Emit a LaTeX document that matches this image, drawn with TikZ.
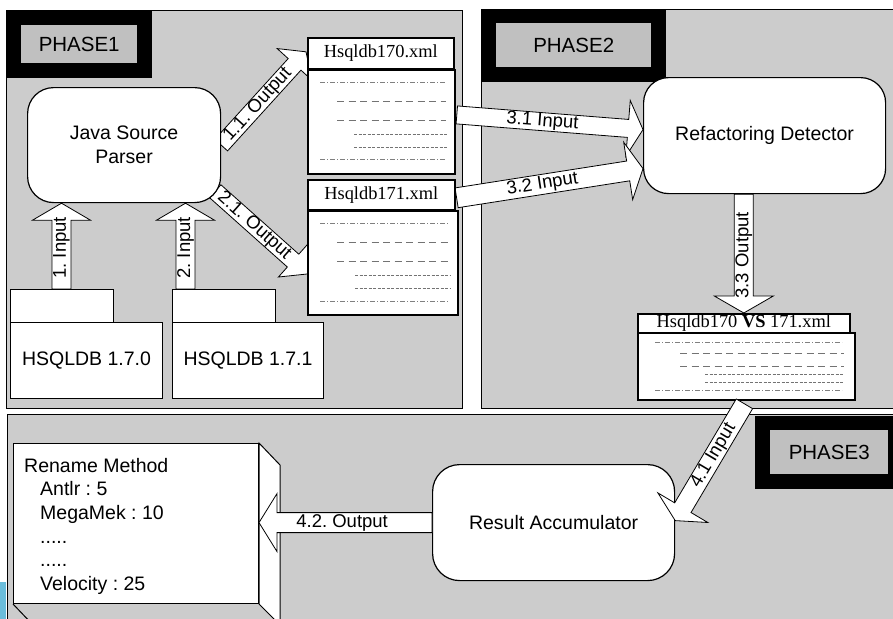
\documentclass[tikz,border=0pt]{standalone}
\usepackage{fontspec}
\setmainfont{Liberation Sans}
\newfontfamily\xmlfont{Liberation Serif}
\usetikzlibrary{calc}
\pgfdeclarelayer{bg}
\pgfdeclarelayer{arr}
\pgfdeclarelayer{front}
\pgfsetlayers{bg,arr,main,front}
\definecolor{panelgray}{HTML}{CCCCCC}
\definecolor{labgray}{HTML}{C0C0C0}
\definecolor{edgeblue}{HTML}{6BBDDB}
\tikzset{
  panel/.style={fill=panelgray, draw=black, line width=0.8pt},
  plab/.style={fill=labgray, draw=none, inner sep=0pt, anchor=north west, font=\fontsize{20.5}{22}\selectfont},
  rbox/.style={draw=black, fill=white, rounded corners=26pt, line width=1.2pt, inner sep=0pt, anchor=north west,
    align=center, font=\fontsize{19.5}{24}\selectfont},
  dbbox/.style={draw=black, fill=white, line width=1pt, inner sep=0pt, anchor=north west, font=\fontsize{19.5}{24}\selectfont},
  fhead/.style={draw=black, fill=white, line width=1.6pt, inner sep=0pt, anchor=north west, font=\xmlfont\fontsize{18.4}{20}\selectfont},
  fbody/.style={draw=black, fill=white, line width=1.8pt, inner sep=0pt, anchor=north west},
  barr/.style={draw=black, fill=white, line width=0.8pt, line join=miter},
  alab/.style={font=\fontsize{18.5}{20}\selectfont, inner sep=0pt},
  ddot/.style={draw=black!50, line width=0.6pt, dash pattern=on 5pt off 2pt on 1pt off 2pt},
  ldash/.style={draw=black!55, line width=0.8pt, dash pattern=on 7pt off 4.5pt},
  fdash/.style={draw=black!55, line width=0.6pt, dash pattern=on 3pt off 1.5pt}
}
% block arrow: #1 name, #2 tail coordinate name, #3 tip coordinate name, #4 shaft half width, #5 head half width, #6 head length
\newcommand{\barrow}[6]{%
  \coordinate (#1-b) at ($(#3)!#6!(#2)$);
  \draw[barr] ($(#2)!#4!90:(#3)$) -- ($(#1-b)!#4!90:(#3)$) -- ($(#1-b)!#5!90:(#3)$)
    -- (#3) -- ($(#1-b)!#5!-90:(#3)$) -- ($(#1-b)!#4!-90:(#3)$) -- ($(#2)!#4!-90:(#3)$) -- cycle;
}
\begin{document}
\frenchspacing
\begin{tikzpicture}[x=1pt,y=-1pt]
\useasboundingbox (0,0) rectangle (893,618);

\begin{pgfonlayer}{bg}
\fill[white] (0,0) rectangle (893,618);
% panels
\draw[panel] (6,10) rectangle (462,408);
\draw[panel] (481,9) rectangle (905,408);
\draw[panel] (7,414) rectangle (905,640);
\fill[edgeblue] (0,582) rectangle (6,620);
% phase labels
\fill[black] (6,10) rectangle (152,78);
\fill[black] (481,9) rectangle (666,82);
\fill[black] (755,416) rectangle (905,489);
\end{pgfonlayer}
\node[plab, minimum width=116pt, minimum height=38pt] (p1) at (21,25) {PHASE1};
\node[plab, minimum width=155pt, minimum height=44pt] (p2) at (496,23) {PHASE2};
\node[plab, minimum width=118pt, minimum height=44pt] (p3) at (770,430) {PHASE3};

% rename method box (3D)
\node[draw=black, fill=white, line width=1pt, anchor=north west, minimum width=245pt, minimum height=160pt, inner sep=0pt] (rn) at (13,443) {};
\draw[fill=white, line width=1pt] (rn.north east) -- ++(21,22) -- ++(0,160) -- (rn.south east) -- cycle;
\draw[line width=1pt] (rn.south east) ++(21,22) -- ++(0,20);
\draw[line width=1pt] (rn.south west) -- ++(21,22);
\node[anchor=north west, align=left, inner sep=0pt, font=\fontsize{19.5}{23.6}\selectfont] (rntext) at (24,458)
  {Rename Method\\\hspace*{16pt}Antlr : 5\\\hspace*{16pt}MegaMek : 10\\\hspace*{16pt}.....\\\hspace*{16pt}.....\\\hspace*{16pt}Velocity : 25};

% main nodes
\node[dbbox, minimum width=103pt, minimum height=33pt] (tab1) at (10,289) {};
\node[dbbox, minimum width=103pt, minimum height=33pt] (tab2) at (172,289) {};
\node[dbbox, minimum width=152pt, minimum height=76pt] (db1) at (10,322) {HSQLDB 1.7.0};
\node[dbbox, minimum width=151pt, minimum height=76pt] (db2) at (172,322) {HSQLDB 1.7.1};
\node[rbox, minimum width=193pt, minimum height=115pt] (jsp) at (27,87) {Java Source\\Parser};
\node[rbox, rounded corners=25pt, minimum width=242pt, minimum height=116pt] (rd) at (643,77) {Refactoring Detector};
\node[rbox, rounded corners=27pt, minimum width=242pt, minimum height=116pt] (ra) at (432,464) {Result Accumulator};

\node[fhead, minimum width=146pt, minimum height=31pt] (h170) at (307,37) {Hsqldb170.xml};
\node[fbody, minimum width=147pt, minimum height=104pt] (b170) at (307,69) {};
\node[fhead, minimum width=147pt, minimum height=30pt] (h171) at (307,179) {Hsqldb171.xml};
\node[fbody, minimum width=150pt, minimum height=104pt] (b171) at (307,210) {};
\node[fhead, minimum width=212pt, minimum height=19pt] (vsh) at (637,313) {Hsqldb170 \textbf{VS} 171.xml};
\node[fbody, minimum width=217pt, minimum height=67pt] (vsb) at (637,332) {};

% file contents
\draw[ddot] (320,82) -- (446,82);
\draw[ldash] (337,101) -- (446,101);
\draw[ldash] (337,120) -- (446,120);
\draw[fdash] (354,134) -- (447,134);
\draw[fdash] (354,147) -- (447,147);
\draw[ddot] (320,159) -- (446,159);

\draw[ddot] (320,223) -- (449,223);
\draw[ldash] (337,242) -- (449,242);
\draw[ldash] (337,261) -- (449,261);
\draw[fdash] (355,275) -- (451,275);
\draw[fdash] (355,288) -- (451,288);
\draw[ddot] (320,301) -- (449,301);

\draw[ddot] (655,342) -- (842,342);
\draw[ldash] (680,353) -- (844,353);
\draw[ldash] (680,366) -- (844,366);
\draw[fdash] (705,374) -- (844,374);
\draw[fdash] (705,382) -- (844,382);
\draw[ddot] (655,390) -- (842,390);

% arrow end points
\coordinate (a1s) at ($(tab1.north west)+(51.5,0)$);
\coordinate (a1e) at (a1s |- jsp.south);
\coordinate (a2s) at ($(tab2.north west)+(13.5,0)$);
\coordinate (a2e) at (a2s |- jsp.south);
\coordinate (a11s) at (jsp.east);
\coordinate (a11e) at ($(h170.west)+(-1,-1.5)$);
\coordinate (a21s) at ($(jsp.south east)+(-6,-12)$);
\coordinate (a21e) at ($(b171.west)+(1,11)$);
\coordinate (a31s) at ($(b170.east)+(1,-7)$);
\coordinate (a31e) at ($(rd.west)+(0,-6)$);
\coordinate (a32s) at ($(h171.east)+(1,3)$);
\coordinate (a32e) at ($(rd.west)+(0,33)$);
\coordinate (a33e) at (vsh.north);
\coordinate (a33s) at (a33e |- rd.south);
\coordinate (a41s) at ($(vsb.south)+(-2,3)$);
\coordinate (a41e) at ($(ra.east)+(0,-2)$);
\coordinate (a42s) at (ra.west);
\coordinate (a42e) at (ra.west -| rn.east);

\begin{pgfonlayer}{arr}
\barrow{a1}{a1s}{a1e}{9.5pt}{29pt}{17pt}
\path (a1s) -- (a1-b) node[alab, pos=0.6, sloped] {1. Input};
\barrow{a2}{a2s}{a2e}{9.5pt}{29pt}{17pt}
\path (a2s) -- (a2-b) node[alab, pos=0.6, sloped] {2. Input};
\barrow{a11}{a11s}{a11e}{8.6pt}{23.5pt}{17pt}
\path (a11s) -- (a11-b) node[alab, pos=0.5, sloped] {1.1. Output};
\barrow{a21}{a21s}{a21e}{8.6pt}{22pt}{20pt}
\path (a21s) -- (a21-b) node[alab, pos=0.5, sloped] {2.1. Output};
\barrow{a31}{a31s}{a31e}{9pt}{28pt}{15pt}
\path (a31s) -- (a31-b) node[alab, pos=0.5, sloped] {3.1 Input};
\barrow{a32}{a32s}{a32e}{10pt}{29pt}{15pt}
\path (a32s) -- (a32-b) node[alab, pos=0.5, sloped] {3.2 Input};
\barrow{a33}{a33s}{a33e}{9.5pt}{29.5pt}{17pt}
\path (a33-b) -- (a33s) node[alab, pos=0.4, sloped] {3.3 Output};
\end{pgfonlayer}

\begin{pgfonlayer}{front}
\barrow{a41}{a41s}{a41e}{9.5pt}{29pt}{15pt}
\path (a41s) -- (a41-b) node[alab, pos=0.5, sloped] {4.1 Input};
\barrow{a42}{a42s}{a42e}{10pt}{29pt}{18pt}
\path (a42s) -- (a42-b) node[alab, pos=0.58, sloped] {4.2. Output};
\end{pgfonlayer}
\end{tikzpicture}
\end{document}
